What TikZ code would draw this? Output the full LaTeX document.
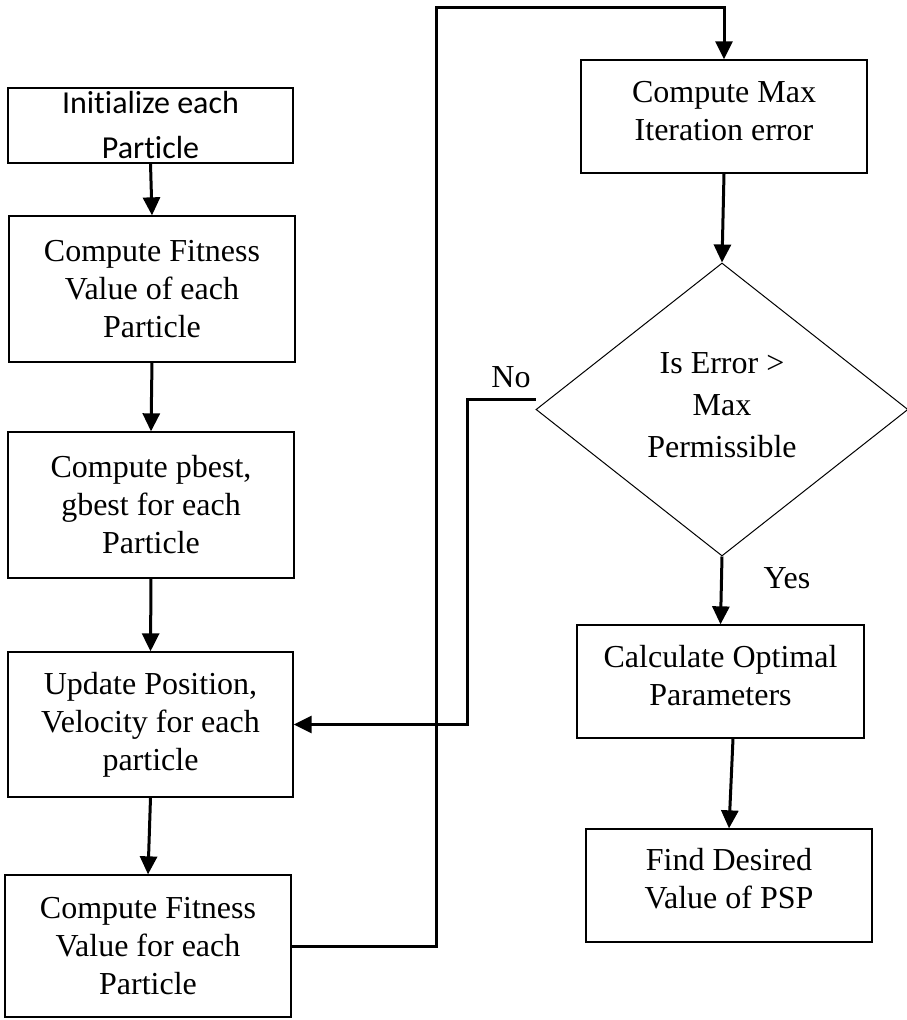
\documentclass[tikz,border=0pt]{standalone}
\usepackage{fontspec}
\setmainfont{Liberation Serif}
\newfontfamily\calibrifont[RawFeature={-liga;-clig;-calt;-dlig}]{Carlito}
\usetikzlibrary{shapes.geometric,arrows.meta}
\begin{document}
\begin{tikzpicture}[x=1pt,y=-1pt,
  box/.style={draw, line width=1.3pt, inner sep=0pt},
  txt/.style={align=center, font=\fontsize{32}{38}\selectfont, inner sep=0pt},
  arr/.style={line width=3pt, -{Triangle[length=18pt,width=17pt]}},
  conn/.style={line width=3pt}]
\useasboundingbox (0,0) rectangle (906,1020);

% left column
\node[box, minimum width=285pt, minimum height=75pt] (b1) at (150.5,125.5) {};
\node[txt, font=\calibrifont\fontsize{32}{45}\selectfont] (b1t) at (b1.center) {Init\kern0pt ialize each\\Part\kern0pt icle};
\node[box, minimum width=286pt, minimum height=146pt] (b2) at (152,289) {};
\node[txt] (b2t) at (b2.center) {Compute Fitness\\Value of each\\Particle};
\node[box, minimum width=286pt, minimum height=146pt] (b3) at (151,505) {};
\node[txt] (b3t) at (b3.center) {Compute pbest,\\gbest for each\\Particle};
\node[box, minimum width=285pt, minimum height=145pt] (b4) at (150.5,724.5) {};
\node[txt] (b4t) at (b4.center) {Update Position,\\Velocity for each\\particle};
\node[box, minimum width=286pt, minimum height=142pt] (b5) at (148,946) {};
\node[txt] (b5t) at (b5.center) {Compute Fitness\\Value for each\\Particle};

% right column
\node[box, minimum width=286pt, minimum height=113pt] (b6) at (724,116.5) {};
\node[txt] (b6t) at ([yshift=5.5pt]b6.center) {Compute Max\\Iteration error};
\node[diamond, draw, line width=1pt, minimum width=372pt, minimum height=293pt, inner sep=0pt] (d) at (722,409.5) {};
\node[txt, font=\fontsize{32}{42}\selectfont] (dt) at (722,405) {Is Error >\\Max\\Permissible};
\node[box, minimum width=287pt, minimum height=113pt] (calc) at (720.5,681.5) {};
\node[txt] (calct) at ([yshift=5.5pt]calc.center) {Calculate Optimal\\Parameters};
\node[box, minimum width=286pt, minimum height=113pt] (find) at (729,885.5) {};
\node[txt] (findt) at ([yshift=6.5pt]find.center) {Find Desired\\Value of PSP};

% labels
\node[txt] (no) at (511,377) {No};
\node[txt] (yes) at (787,578) {Yes};

% connectors
\draw[arr] (b1.south) -- (b2.north);
\draw[arr] (b2.south) -- (b3.north);
\draw[arr] (b3.south) -- (b4.north);
\draw[arr] (b4.south) -- (b5.north);
\coordinate (loop) at (436,7);
\draw[arr] (b5.east) -| (loop) -| (b6.north);
\draw[arr] (b6.south) -- (d.north);
\draw[arr] (d.south) -- (calc.north);
\draw[arr] ([xshift=12.5pt]calc.south) -- (find.north);
\draw[arr] ([yshift=10.5pt]d.west) -- ++(-68,0) |- (b4.east);
\end{tikzpicture}
\end{document}
